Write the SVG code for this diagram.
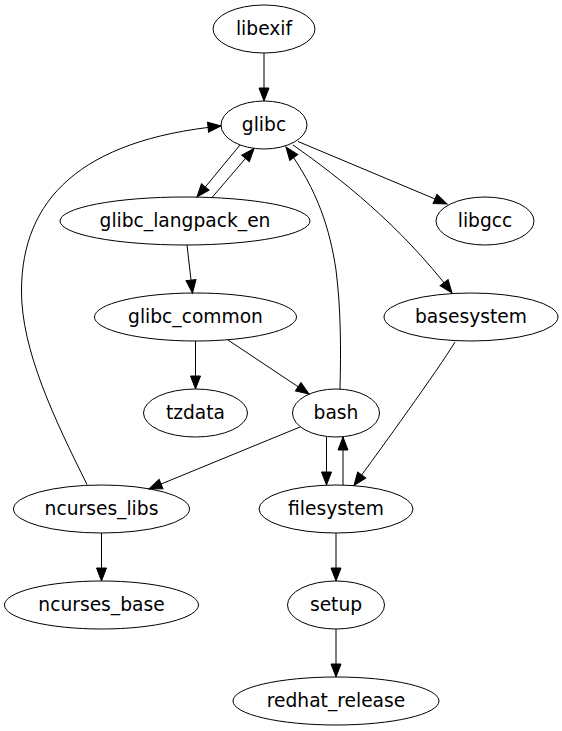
<svg xmlns="http://www.w3.org/2000/svg" width="562" height="731" viewBox="0 0 562 731">
<style>
.n ellipse{fill:none;stroke:#000;stroke-width:1}
.n text{font-family:"DejaVu Sans",sans-serif;font-size:18.67px;text-anchor:middle;fill:#000}
#edges path{fill:none;stroke:#000;stroke-width:1;marker-end:url(#arr)}
</style>
<defs>
<marker id="arr" markerUnits="userSpaceOnUse" markerWidth="14" markerHeight="12" refX="13" refY="0" orient="auto" overflow="visible">
<path d="M0,-5 L13,0 L0,5 Z" fill="#000" stroke="#000" stroke-width="1"/>
</marker>
</defs>
<rect width="562" height="731" fill="#fff"/>
<g id="edges">
<path d="M264,53 L264,101"/>
<path d="M240,145 L197,197"/>
<path d="M212,197.5 L254,148.5"/>
<path d="M298,141.5 L447,204"/>
<path d="M293,145 C340,178 400,225 452,293"/>
<path d="M340,389 C341,350 341,310 336,270 C330,230 318,190 286,147"/>
<path d="M187,245 L192.5,293"/>
<path d="M195.5,341 L195.5,389"/>
<path d="M228,340 L309,394"/>
<path d="M300,427 L149,489"/>
<path d="M326.5,437 L326.5,485"/>
<path d="M343,485 L343,437"/>
<path d="M455,342 C438,370 380,450 354,485.5"/>
<path d="M87,484.5 C55,420 21,350 21.5,290 C22,200 80,140 221,126"/>
<path d="M101.5,533 L101.5,581"/>
<path d="M336,533 L336,581"/>
<path d="M336,629 L336,677"/>
</g>
<g id="libexif" class="n"><ellipse cx="264" cy="29" rx="51" ry="24"/><text x="264" y="35">libexif</text></g>
<g id="glibc" class="n"><ellipse cx="264" cy="125" rx="43" ry="24"/><text x="264" y="131">glibc</text></g>
<g id="glibc_langpack_en" class="n"><ellipse cx="185" cy="221" rx="125" ry="24"/><text x="185" y="227">glibc_langpack_en</text></g>
<g id="libgcc" class="n"><ellipse cx="485" cy="221" rx="49" ry="24"/><text x="485" y="227">libgcc</text></g>
<g id="glibc_common" class="n"><ellipse cx="195.5" cy="317" rx="101" ry="24"/><text x="195.5" y="323">glibc_common</text></g>
<g id="basesystem" class="n"><ellipse cx="471" cy="317" rx="87" ry="24"/><text x="471" y="323">basesystem</text></g>
<g id="tzdata" class="n"><ellipse cx="195.5" cy="413" rx="52" ry="24"/><text x="195.5" y="419">tzdata</text></g>
<g id="bash" class="n"><ellipse cx="336" cy="413" rx="43.5" ry="24"/><text x="336" y="419">bash</text></g>
<g id="ncurses_libs" class="n"><ellipse cx="101.5" cy="509" rx="88" ry="24"/><text x="101.5" y="515">ncurses_libs</text></g>
<g id="filesystem" class="n"><ellipse cx="336" cy="509" rx="77" ry="24"/><text x="336" y="515">filesystem</text></g>
<g id="ncurses_base" class="n"><ellipse cx="101.5" cy="605" rx="97" ry="24"/><text x="101.5" y="611">ncurses_base</text></g>
<g id="setup" class="n"><ellipse cx="336" cy="605" rx="48.5" ry="24"/><text x="336" y="611">setup</text></g>
<g id="redhat_release" class="n"><ellipse cx="336" cy="701" rx="103" ry="24"/><text x="336" y="707">redhat_release</text></g>
</svg>
